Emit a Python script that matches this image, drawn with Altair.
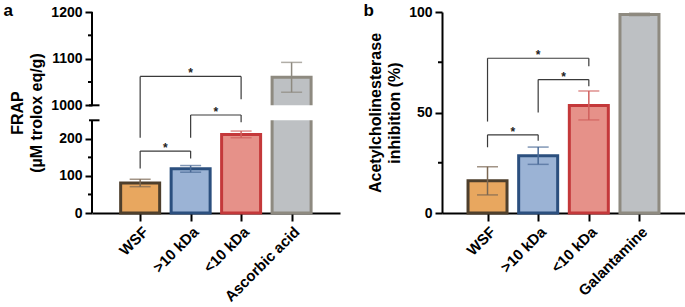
import json
import altair as alt
import pandas as pd

# ---------------- data ----------------
cats_a = ["WSF", ">10 kDa", "<10 kDa", "Ascorbic acid"]
frap_mean = [81, 119, 212, 1060]
frap_sd = [10, 9, 9, 32]

cats_b = ["WSF", ">10 kDa", "<10 kDa", "Galantamine"]
ache_mean = [16, 28.5, 53.5, 98.8]
ache_sd = [7, 4.3, 7.2, 0.6]

# significance brackets (group index from/to, bracket level, left foot, right foot)
brk_a_from = [0, 1, 0]
brk_a_to = [2, 2, 1]
brk_a_y = [1062, 515, 167]
brk_a_left = [203, 203, 120]
brk_a_right = [1013, 245, 147]

brk_b_from = [0, 1, 0]
brk_b_to = [2, 2, 1]
brk_b_y = [77, 66.4, 38.9]
brk_b_left = [45.5, 50, 32.7]
brk_b_right = [73, 63, 36]

sig_label = "*"

# axes
a_ticks = [0, 100, 200, 1000, 1100, 1200]
a_minor = [50, 150, 1050, 1150]
a_break = [250, 1000]
a_top = 1200
b_ticks = [0, 50, 100]
b_minor = [25, 75]

# ---------------- style ----------------
FONT = "Liberation Sans"
fills = ["#E8A75F", "#9BB3D5", "#E69189", "#BDC0C3"]
strokes = ["#4E3F2C", "#2B4F7E", "#C4383A", "#8E8A80"]
whisk = ["#7A6752", "#4A6A96", "#D0605D", "#8E8A80"]
H = 201


def panel(cats, means, sds, bf, bt, by, bl, br, yscale, yticks, ytitle, minor,
          width, xdomain, letter, letter_x, breaks=None, top=None):
    pos = list(range(len(cats)))
    df = pd.DataFrame({"pos": pos, "cat": cats, "mean": means, "sd": sds})
    df["lo"] = df["mean"] - df["sd"]
    df["hi"] = df["mean"] + df["sd"]
    df["zero"] = 0

    xscale = alt.Scale(domain=xdomain, nice=False, zero=False)
    label_expr = json.dumps(cats) + "[datum.value]"
    xaxis = alt.Axis(values=pos, labelExpr=label_expr, title=None, labelAngle=-45,
                     labelFontSize=15, tickSize=8, grid=False, labelOverlap=False,
                     labelBound=False, labelFlush=False)
    yaxis = alt.Axis(values=yticks, title=ytitle, grid=False, format="d",
                     labelOverlap=False, domain=breaks is None)

    def X(f):
        return alt.X(f, scale=xscale, axis=xaxis)

    def Y(f):
        return alt.Y(f, scale=yscale, axis=yaxis)

    fill_sc = alt.Scale(domain=cats, range=fills)
    stroke_sc = alt.Scale(domain=cats, range=strokes)
    wh_sc = alt.Scale(domain=cats, range=whisk)

    bars = alt.Chart(df).mark_bar(width=39, strokeWidth=3).encode(
        x=X("pos:Q"),
        y=Y("mean:Q"),
        y2="zero:Q",
        fill=alt.Fill("cat:N", scale=fill_sc, legend=None),
        stroke=alt.Stroke("cat:N", scale=stroke_sc, legend=None),
    )
    layers = [bars]

    if breaks is not None:
        gap = df[df["mean"] > breaks[1]].copy()
        gap["g0"] = breaks[0]
        gap["g1"] = breaks[1]
        layers.append(alt.Chart(gap).mark_bar(width=47, color="white").encode(
            x=X("pos:Q"),
            y=Y("g0:Q"),
            y2="g1:Q",
        ))
        segs = pd.DataFrame({"lo": [0, breaks[1]], "hi": [breaks[0], top]})
        layers.append(alt.Chart(segs).mark_rule(strokeWidth=2, color="black").encode(
            x=alt.value(0),
            y=Y("lo:Q"),
            y2="hi:Q",
        ))
        caps = pd.DataFrame({"v": breaks})
        layers.append(alt.Chart(caps).mark_rule(strokeWidth=2, color="black").encode(
            x=alt.value(-3), x2=alt.value(7.5),
            y=Y("v:Q"),
        ))

    mdf = pd.DataFrame({"v": minor})
    layers.append(alt.Chart(mdf).mark_rule(strokeWidth=2, color="black").encode(
        x=alt.value(-4), x2=alt.value(0),
        y=Y("v:Q"),
    ))

    # error bars
    layers.append(alt.Chart(df).mark_rule(strokeWidth=1.5).encode(
        x=X("pos:Q"),
        y=Y("lo:Q"),
        y2="hi:Q",
        color=alt.Color("cat:N", scale=wh_sc, legend=None),
    ))
    capdf = pd.concat([
        df[["pos", "cat"]].assign(v=df["hi"]),
        df[["pos", "cat"]].assign(v=df["lo"]),
    ])
    layers.append(alt.Chart(capdf).mark_tick(orient="horizontal", size=21, thickness=1.5).encode(
        x=X("pos:Q"),
        y=Y("v:Q"),
        color=alt.Color("cat:N", scale=wh_sc, legend=None),
    ))

    # brackets
    rows = []
    for f, t, y, l, r in zip(bf, bt, by, bl, br):
        rows.append({"x": f, "x2": t, "y": y, "y2": y})
        rows.append({"x": f, "x2": f, "y": l, "y2": y})
        rows.append({"x": t, "x2": t, "y": r, "y2": y})
    bdf = pd.DataFrame(rows)
    layers.append(alt.Chart(bdf).mark_rule(strokeWidth=1.2, color="#3a3a3a").encode(
        x=X("x:Q"), x2="x2:Q",
        y=Y("y:Q"), y2="y2:Q",
    ))
    sdf = pd.DataFrame({"m": [(f + t) / 2 for f, t in zip(bf, bt)], "y": by, "s": [sig_label] * len(by)})
    layers.append(alt.Chart(sdf).mark_text(fontSize=12, fontWeight="bold", baseline="alphabetic",
                                           dy=1, color="#222", font=FONT).encode(
        x=X("m:Q"),
        y=Y("y:Q"),
        text="s:N",
    ))

    ldf = pd.DataFrame({"t": [letter]})
    layers.append(alt.Chart(ldf).mark_text(fontSize=17, fontWeight="bold", align="left",
                                           baseline="alphabetic", color="black", font=FONT).encode(
        x=alt.value(letter_x), y=alt.value(3.5), text="t:N",
    ))

    return alt.layer(*layers).properties(width=width, height=H)


left = panel(
    cats_a, frap_mean, frap_sd, brk_a_from, brk_a_to, brk_a_y, brk_a_left, brk_a_right,
    alt.Scale(domain=[0, a_break[0], a_break[1], a_top], range=[H, 108.3, 93.3, 0],
              zero=False, nice=False),
    a_ticks, ["FRAP", "(µM trolox eq/g)"], a_minor, 248, [-0.855, 3.86], "a", -88.5,
    breaks=a_break, top=a_top,
)

right = panel(
    cats_b, ache_mean, ache_sd, brk_b_from, brk_b_to, brk_b_y, brk_b_left, brk_b_right,
    alt.Scale(domain=[0, 100], zero=False, nice=False),
    b_ticks, ["Acetylcholinesterase", "inhibition (%)"], b_minor, 243, [-0.80, 3.80], "b", -78.5,
)

chart = alt.hconcat(left, right, spacing=23).resolve_scale(
    fill="independent", stroke="independent", color="independent",
    x="independent", y="independent",
).properties(
    padding={"left": 3, "top": 1, "right": 0, "bottom": 0}
).configure_view(stroke=None).configure_axis(
    labelFont=FONT, labelFontSize=14, labelFontWeight="bold", labelColor="black",
    titleFont=FONT, titleFontSize=16, titleFontWeight="bold", titleColor="black",
    titleLineHeight=19, tickColor="black", tickWidth=2, tickSize=7, domainColor="black",
    domainWidth=2, labelPadding=3, titlePadding=6,
)

chart.save("out.html", embed_options={"renderer": "svg", "actions": False})
